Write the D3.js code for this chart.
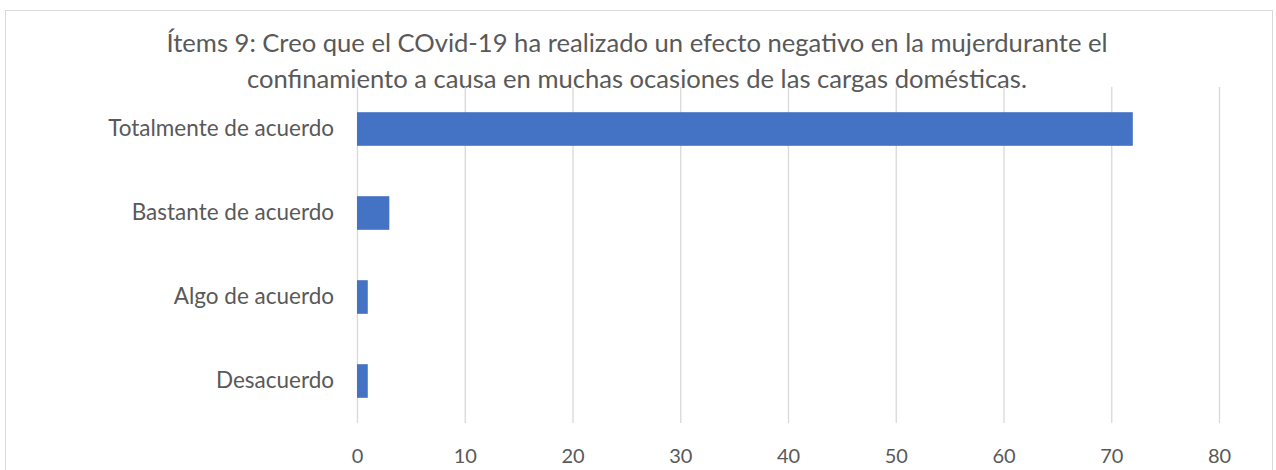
<!DOCTYPE html>
<html>
<head>
<meta charset="utf-8">
<script src="https://cdn.jsdelivr.net/npm/d3@7"></script>
<style>
  body { margin: 0; background: #fff; }
  text { font-family: Lato, "Open Sans", sans-serif; fill: #595959; }
</style>
</head>
<body>
<div id="chart"></div>
<script>
var titleLines = [
  "Ítems 9: Creo que el COvid-19 ha realizado un efecto negativo en la mujerdurante el",
  "confinamiento a causa en muchas ocasiones de las cargas domésticas."
];
var categories = ["Totalmente de acuerdo", "Bastante de acuerdo", "Algo de acuerdo", "Desacuerdo"];
var values = [72, 3, 1, 1];
var xTicks = [0, 10, 20, 30, 40, 50, 60, 70, 80];

var svg = d3.select("#chart").append("svg").attr("width", 1276).attr("height", 470),
    plotLeft = 357,
    plotRight = 1219,
    plotTop = 87,
    plotBottom = 423;

// chart frame
svg.append("rect")
   .attr("x", 5.5).attr("y", 10.5)
   .attr("width", 1267).attr("height", 480)
   .attr("fill", "none")
   .attr("stroke", "#d9d9d9");

svg.selectAll(".title")
   .data(titleLines)
   .enter().append("text")
   .attr("class", "title")
   .attr("x", 637)
   .attr("y", function(d, i) { return 52 + i * 36; })
   .attr("text-anchor", "middle")
   .attr("font-size", "25.6px")
   .text(function(d) { return d; });

var xScale = d3.scaleLinear().domain([0, 80]).range([plotLeft, plotRight]);
var yScale = d3.scaleBand().domain(categories).range([plotTop, plotBottom])
               .paddingInner(0.6).paddingOuter(0.3);

// gridlines
svg.append("g")
   .attr("transform", "translate(0," + plotBottom + ")")
   .call(d3.axisBottom(xScale).tickValues(xTicks).tickSize(-(plotBottom - plotTop)).tickFormat(""))
   .call(function(g) {
     g.select(".domain").remove();
     g.selectAll(".tick line").attr("stroke", "#d9d9d9").attr("stroke-width", 1.3);
   });

svg.append("g")
   .attr("transform", "translate(0," + (plotBottom + 23) + ")")
   .call(d3.axisBottom(xScale).tickValues(xTicks).tickSize(0))
   .call(function(g) {
     g.select(".domain").remove();
     g.selectAll(".tick text")
      .attr("font-family", "Lato, 'Open Sans', sans-serif")
      .attr("font-size", "20px")
      .attr("fill", "#595959");
   });

svg.append("g")
   .attr("transform", "translate(" + (plotLeft - 20) + ",0)")
   .call(d3.axisLeft(yScale).tickSize(0))
   .call(function(g) {
     g.select(".domain").remove();
     g.selectAll(".tick text")
      .attr("font-family", "Lato, 'Open Sans', sans-serif")
      .attr("font-size", "22.5px")
      .attr("fill", "#595959");
   });

svg.selectAll(".bar")
   .data(values)
   .enter().append("rect")
   .attr("class", "bar")
   .attr("x", xScale(0))
   .attr("y", function(d, i) { return yScale(categories[i]); })
   .attr("width", function(d) { return xScale(d) - xScale(0); })
   .attr("height", yScale.bandwidth())
   .attr("fill", "#4472c4");
</script>
</body>
</html>
